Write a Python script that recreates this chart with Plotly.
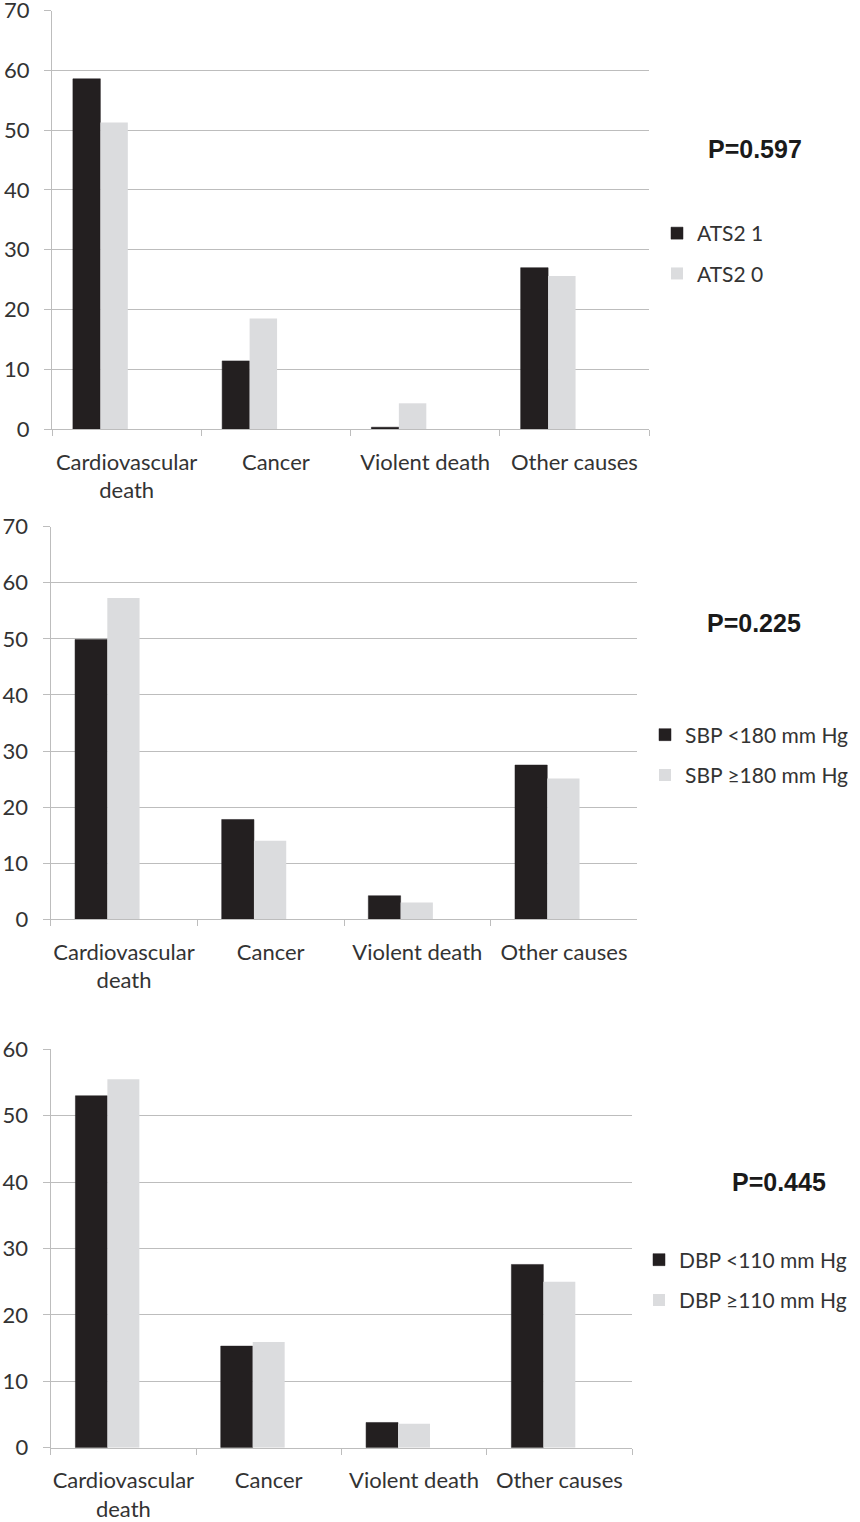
import plotly.graph_objects as go

# 数据
categories = ["Cardiovascular<br>death", "Cancer", "Violent death", "Other causes"]

ats2_1 = [58.6, 11.4, 0.3, 27.0]
ats2_0 = [51.3, 18.5, 4.3, 25.6]
sbp_lt180 = [49.9, 17.8, 4.2, 27.5]
sbp_ge180 = [57.3, 14.0, 3.0, 25.1]
dbp_lt110 = [53.0, 15.3, 3.8, 27.6]
dbp_ge110 = [55.5, 15.9, 3.6, 25.0]

p_values = ["P=0.597", "P=0.225", "P=0.445"]
legend_names = [
    ("ATS2 1", "ATS2 0"),
    ("SBP <180 mm Hg", "SBP ≥180 mm Hg"),
    ("DBP <110 mm Hg", "DBP ≥110 mm Hg"),
]
y_max = [70, 70, 60]

W, H = 860, 1522
BLACK = "#231f20"
GREY = "#dbdcde"
GRID = "#bdbdbd"
TXT = "#333333"
FONT = "Lato"

# 面板像素位置 (左, 右, 上, 下)
panels = [
    (52, 649, 10.7, 429),
    (50.7, 637.3, 526.7, 919.3),
    (50.7, 632, 1049.3, 1447.7),
]
# 柱宽与偏移（类别单位）
bar_geom = [
    (0.184, -0.36, -0.176),
    (0.22, -0.334, -0.114),
    (0.22, -0.33, -0.11),
]
p_pos = [(755, 149), (754, 623), (779, 1182)]
leg_pos = [(697, 253.5), (685, 755), (679, 1280)]

series = [(ats2_1, ats2_0), (sbp_lt180, sbp_ge180), (dbp_lt110, dbp_ge110)]

fig = go.Figure()
layout = {}
annotations = []

for i in range(3):
    sfx = "" if i == 0 else str(i + 1)
    leg = "legend" if i == 0 else f"legend{i + 1}"
    w, off_a, off_b = bar_geom[i]
    a, b = series[i]
    na, nb = legend_names[i]
    fig.add_trace(go.Bar(x=categories, y=a, name=na, marker_color=BLACK,
                         marker_line=dict(color=BLACK, width=0.5),
                         width=w, offset=off_a, xaxis="x" + sfx, yaxis="y" + sfx,
                         legend=leg, legendgroup=f"a{i}"))
    fig.add_trace(go.Bar(x=categories, y=b, name=nb, marker_color=GREY,
                         marker_line_width=0,
                         width=w, offset=off_b, xaxis="x" + sfx, yaxis="y" + sfx,
                         legend=leg, legendgroup=f"b{i}"))

    x0, x1, yt, yb = panels[i]
    layout["xaxis" + sfx] = dict(
        domain=[x0 / W, x1 / W], anchor="y" + sfx, type="category",
        range=[-0.5, 3.5], showgrid=False, showline=True, linecolor=GRID, linewidth=1.3,
        ticks="outside", tickson="boundaries", ticklen=6, tickcolor=GRID, tickwidth=1.3,
        tickangle=0, ticklabelstandoff=13, ticklabeloverflow="allow",
        tickfont=dict(family=FONT, size=22, color=TXT),
        fixedrange=True,
    )
    layout["yaxis" + sfx] = dict(
        domain=[1 - yb / H, 1 - yt / H], anchor="x" + sfx,
        range=[0, y_max[i]], dtick=10, showgrid=True, gridcolor=GRID, gridwidth=1.3,
        showline=True, linecolor=GRID, linewidth=1.3, zeroline=False,
        ticks="outside", ticklen=7, tickcolor=GRID, tickwidth=1.3,
        ticklabelstandoff=10, ticklabeloverflow="allow",
        tickfont=dict(family=FONT, size=22, color=TXT),
        fixedrange=True,
    )
    lx, ly = leg_pos[i]
    layout[leg] = dict(
        x=(lx - 40) / W, y=1 - ly / H, xanchor="left", yanchor="middle",
        font=dict(family=FONT, size=21, color=TXT), bgcolor="rgba(0,0,0,0)",
        traceorder="grouped", tracegroupgap=10, itemclick=False,
    )
    px, py = p_pos[i]
    annotations.append(dict(
        x=px / W, y=1 - py / H, xref="paper", yref="paper", text=f"<b>{p_values[i]}</b>",
        showarrow=False, xanchor="center", yanchor="middle",
        font=dict(family="Liberation Sans", size=25, color="#1a1a1a"),
    ))

fig.update_layout(
    **layout,
    annotations=annotations,
    width=W, height=H,
    margin=dict(l=0, r=0, t=0, b=0, autoexpand=False),
    template="none",
    plot_bgcolor="white", paper_bgcolor="white",
    showlegend=True,
    hovermode=False,
)

# 去掉页面默认边距，使图与窗口对齐
fig.write_html("out.html", config={"displayModeBar": False},
               post_script="document.body.style.margin='0';")
